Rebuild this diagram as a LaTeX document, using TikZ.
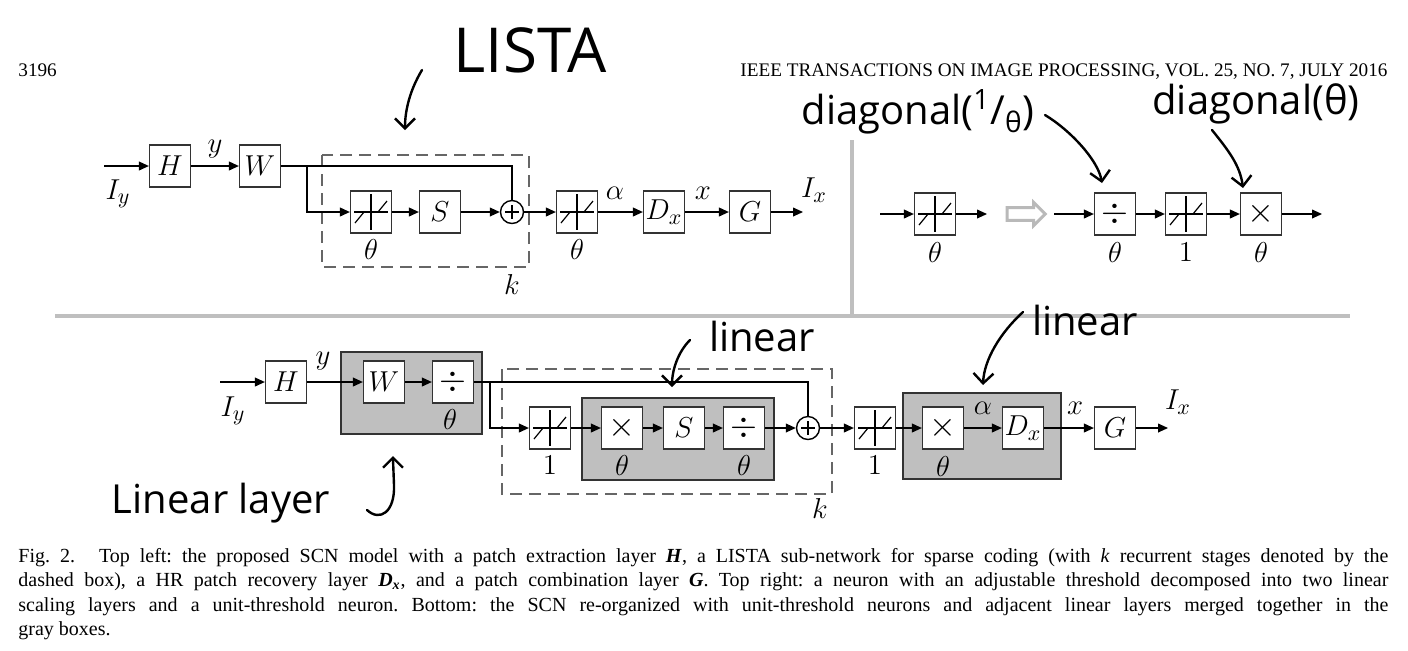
\documentclass[tikz,border=0pt]{standalone}
\usepackage{amsmath}
\usepackage{fontspec}
\setmainfont{Liberation Serif}
\newfontfamily\handfont{Open Sans}
\usetikzlibrary{arrows.meta}
\usetikzlibrary{shapes.arrows}
\tikzstyle{block} = [rectangle, draw=black!80, line width=0.6pt, fill=white, minimum width=20.5pt, minimum height=21pt, inner sep=0pt, font=\fontsize{15}{17}\selectfont]
\tikzstyle{adder} = [circle, draw=black, line width=0.7pt, fill=white, minimum size=11.5pt, inner sep=0pt]
\tikzstyle{wire} = [line width=0.7pt]
\tikzstyle{arrow} = [line width=0.7pt, -{Triangle[length=5pt,width=4.4pt]}]
\tikzstyle{lbl} = [inner sep=0pt, font=\fontsize{15.5}{17}\selectfont]
\tikzstyle{loopbox} = [draw=black!60, line width=1.3pt, dash pattern=on 6pt off 3.5pt]
\tikzstyle{graybox} = [draw=black!80, line width=0.6pt, fill=gray!50]
\tikzstyle{divider} = [draw=gray!50, line width=2pt]
\tikzstyle{hand} = [inner sep=0pt, font=\handfont\fontsize{20}{22}\selectfont]
\tikzstyle{handarrow} = [line width=1.2pt, line cap=round, line join=round, -{Straight Barb[length=5pt,width=10pt]}]
% dead-zone threshold sign inside a block
\newcommand{\deadzone}[1]{%
  \draw[line width=0.6pt] (#1) ++(-17,0) -- ++(34,0);
  \draw[line width=0.6pt] (#1) ++(0,-18) -- ++(0,36);
  \draw[line width=0.6pt] (#1) ++(-16,11) -- ++(9,-11);
  \draw[line width=0.6pt] (#1) ++(7,0) -- ++(9,-11);}
\newcommand{\plussign}[1]{%
  \draw[line width=0.7pt] (#1) ++(-7,0) -- ++(14,0);
  \draw[line width=0.7pt] (#1) ++(0,-7) -- ++(0,14);}

\begin{document}
\begin{tikzpicture}[x=0.5pt, y=-0.5pt]
    \useasboundingbox (0,0) rectangle (1408,650);

    % page header
    \node(PageNo)[anchor=base west, inner sep=0pt, font=\fontsize{9.6}{12}\selectfont] at (18,76) {3196};
    \node(Journal)[anchor=base east, inner sep=0pt, font=\fontsize{9.6}{12}\selectfont] at (1388,76) {IEEE TRANSACTIONS ON IMAGE PROCESSING, VOL. 25, NO. 7, JULY 2016};

    % separators
    \draw[divider] (852,140) -- (852,316);
    \draw[divider] (55,316) -- (1350,316);

    % ---- top left: SCN
    \draw[loopbox] (322,155) rectangle (529,267);
    \coordinate(InTop) at (104,166);
    \coordinate(SplitTop) at (307,166);
    \coordinate(OutTop) at (803,212);
    \node(H1)[block] at (170,166) {$H$};
    \node(W1)[block] at (260,166) {$W$};
    \node(Thr1)[block] at (371,212) {};
    \node(S1)[block] at (440,212) {$S$};
    \node(Sum1)[adder] at (512,212) {};
    \node(Thr2)[block] at (577,212) {};
    \node(Dx1)[block] at (664,212) {$D_x$};
    \node(G1)[block] at (750,212) {$G$};
    \deadzone{Thr1}
    \deadzone{Thr2}
    \plussign{Sum1}

    \draw[arrow] (InTop) -- (H1);
    \draw[arrow] (H1) -- (W1);
    \draw[wire] (W1) -- (SplitTop) -- (SplitTop -| Sum1) -- (Sum1);
    \draw[arrow] (SplitTop) |- (Thr1);
    \draw[arrow] (Thr1) -- (S1);
    \draw[arrow] (S1) -- (Sum1);
    \draw[arrow] (Sum1) -- (Thr2);
    \draw[arrow] (Thr2) -- (Dx1);
    \draw[arrow] (Dx1) -- (G1);
    \draw[arrow] (G1) -- (OutTop);

    \node(IyTop)[lbl] at (118,194) {$I_y$};
    \node(yTop)[lbl] at (215,149) {$y$};
    \node(ThTop1)[lbl] at (371,249) {$\theta$};
    \node(kTop)[lbl] at (512,284) {$k$};
    \node(ThTop2)[lbl] at (577,249) {$\theta$};
    \node(aTop)[lbl] at (615,193) {$\alpha$};
    \node(xTop)[lbl] at (703,193) {$x$};
    \node(IxTop)[lbl] at (814,190) {$I_x$};

    % ---- top right: threshold decomposition
    \coordinate(InA) at (880,214);
    \coordinate(OutA) at (987,214);
    \coordinate(InB) at (1054,214);
    \coordinate(OutB) at (1322,214);
    \node(ThrA)[block] at (935,214) {};
    \node(Equiv)[single arrow, draw=gray!55, line width=1.5pt, minimum height=19pt, minimum width=10pt, inner sep=2.4pt, single arrow head extend=2.6pt] at (1023,214) {};
    \node(DivA)[block, font=\fontsize{16}{16}\selectfont] at (1115,214) {$\div$};
    \node(ThrB)[block] at (1186,214) {};
    \node(MulA)[block, font=\fontsize{16}{16}\selectfont] at (1261,214) {$\times$};
    \deadzone{ThrA}
    \deadzone{ThrB}

    \draw[arrow] (InA) -- (ThrA);
    \draw[arrow] (ThrA) -- (OutA);
    \draw[arrow] (InB) -- (DivA);
    \draw[arrow] (DivA) -- (ThrB);
    \draw[arrow] (ThrB) -- (MulA);
    \draw[arrow] (MulA) -- (OutB);

    \node(ThA)[lbl] at (935,252) {$\theta$};
    \node(ThB)[lbl] at (1115,252) {$\theta$};
    \node(OneB)[lbl] at (1186,252) {$1$};
    \node(ThC)[lbl] at (1261,252) {$\theta$};

    % ---- bottom: re-organized SCN
    \draw[graybox] (341,352) rectangle (482,434);
    \draw[loopbox] (502,369) rectangle (832,494);
    \draw[graybox] (582,398) rectangle (774,480);
    \draw[graybox] (903,393) rectangle (1061,479);
    \coordinate(InBot) at (220,382);
    \coordinate(SplitBot) at (490,382);
    \coordinate(OutBot) at (1168,428);
    \node(H2)[block] at (286,382) {$H$};
    \node(W2)[block] at (384,382) {$W$};
    \node(Div2)[block, font=\fontsize{16}{16}\selectfont] at (453,382) {$\div$};
    \node(Thr3)[block] at (550,428) {};
    \node(Mul2)[block, font=\fontsize{16}{16}\selectfont] at (622,428) {$\times$};
    \node(S2)[block] at (684,428) {$S$};
    \node(Div3)[block, font=\fontsize{16}{16}\selectfont] at (744,428) {$\div$};
    \node(Sum2)[adder] at (808,428) {};
    \node(Thr4)[block] at (875,428) {};
    \node(Mul3)[block, font=\fontsize{16}{16}\selectfont] at (943,428) {$\times$};
    \node(Dx2)[block] at (1023,428) {$D_x$};
    \node(G2)[block] at (1115,428) {$G$};
    \deadzone{Thr3}
    \deadzone{Thr4}
    \plussign{Sum2}

    \draw[arrow] (InBot) -- (H2);
    \draw[arrow] (H2) -- (W2);
    \draw[arrow] (W2) -- (Div2);
    \draw[wire] (Div2) -- (SplitBot) -- (SplitBot -| Sum2) -- (Sum2);
    \draw[arrow] (SplitBot) |- (Thr3);
    \draw[arrow] (Thr3) -- (Mul2);
    \draw[arrow] (Mul2) -- (S2);
    \draw[arrow] (S2) -- (Div3);
    \draw[arrow] (Div3) -- (Sum2);
    \draw[arrow] (Sum2) -- (Thr4);
    \draw[arrow] (Thr4) -- (Mul3);
    \draw[arrow] (Mul3) -- (Dx2);
    \draw[arrow] (Dx2) -- (G2);
    \draw[arrow] (G2) -- (OutBot);

    \node(IyBot)[lbl] at (233,411) {$I_y$};
    \node(yBot)[lbl] at (323,361) {$y$};
    \node(ThBot1)[lbl] at (450,419) {$\theta$};
    \node(OneBot1)[lbl] at (550,465) {$1$};
    \node(ThBot2)[lbl] at (622,465) {$\theta$};
    \node(ThBot3)[lbl] at (744,465) {$\theta$};
    \node(kBot)[lbl] at (820,508) {$k$};
    \node(OneBot2)[lbl] at (875,465) {$1$};
    \node(ThBot4)[lbl] at (943,466) {$\theta$};
    \node(aBot)[lbl] at (983,408) {$\alpha$};
    \node(xBot)[lbl] at (1075,408) {$x$};
    \node(IxBot)[lbl] at (1178,402) {$I_x$};

    % ---- handwritten notes
    \node(Lista)[hand, font=\handfont\fontsize{31}{33}\selectfont] at (530,50) {LISTA};
    \node(DiagInv)[hand] at (918,112) {diagonal(\textsuperscript{1}/\textsubscript{θ})};
    \node(Diag)[hand] at (1256,104) {diagonal(θ)};
    \node(LinA)[hand] at (762,336) {linear};
    \node(LinB)[hand] at (1085,320) {linear};
    \node(LinLayer)[hand] at (221,503) {Linear layer};
    \coordinate(ListaFrom) at (422,70);
    \coordinate(ListaTo) at (405,130);
    \coordinate(DiagInvFrom) at (1045,115);
    \coordinate(DiagInvTo) at (1102,183);
    \coordinate(DiagFrom) at (1212,130);
    \coordinate(DiagTo) at (1243,188);
    \coordinate(LinAFrom) at (690,340);
    \coordinate(LinATo) at (672,387);
    \coordinate(LinBFrom) at (1023,312);
    \coordinate(LinBTo) at (983,385);
    \coordinate(LinLayerFrom) at (367,510);
    \coordinate(LinLayerTo) at (393,456);
    \draw[handarrow] (ListaFrom) .. controls (410,90) and (405,110) .. (ListaTo);
    \draw[handarrow] (DiagInvFrom) .. controls (1070,130) and (1098,160) .. (DiagInvTo);
    \draw[handarrow] (DiagFrom) .. controls (1228,150) and (1240,165) .. (DiagTo);
    \draw[handarrow] (LinAFrom) .. controls (678,352) and (672,370) .. (LinATo);
    \draw[handarrow] (LinBFrom) .. controls (1000,333) and (984,360) .. (LinBTo);
    \draw[handarrow] (LinLayerFrom) .. controls (380,522) and (395,512) .. (394,485) .. controls (393,472) .. (LinLayerTo);

    % caption
    \node(Caption)[anchor=north west, inner sep=0pt, text width=685pt, align=justify, font=\fontsize{10}{12.25}\selectfont] at (18,548) {\frenchspacing Fig.~2.\hspace{1.2em}Top left: the proposed SCN model with a patch extraction layer \textbf{\textit{H}}, a LISTA sub-network for sparse coding (with \textit{k} recurrent stages denoted by the\linebreak dashed box), a HR patch recovery layer \textbf{\textit{D}}\textsubscript{\textbf{\textit{x}}}, and a patch combination layer \textbf{\textit{G}}. Top right: a neuron with an adjustable threshold decomposed into two linear\linebreak scaling layers and a unit-threshold neuron. Bottom: the SCN re-organized with unit-threshold neurons and adjacent linear layers merged together in the\linebreak gray boxes.};
\end{tikzpicture}
\end{document}
